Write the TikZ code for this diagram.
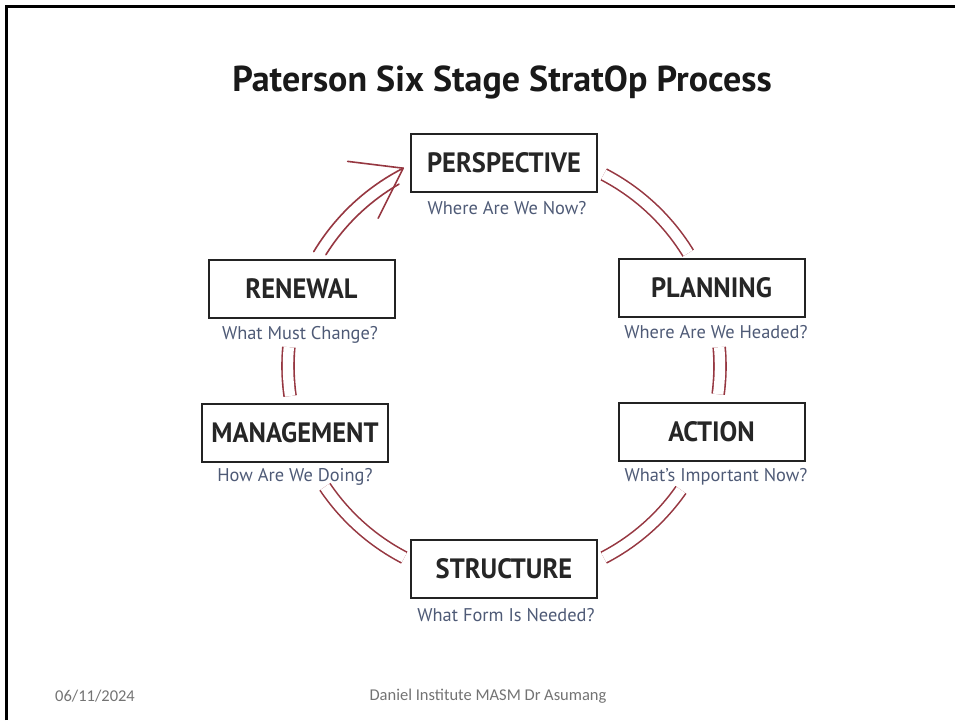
\documentclass[tikz,border=0pt]{standalone}
\usepackage{fontspec}
\setmainfont{PT Sans}
\newfontfamily\footfont{Carlito}
\newfontfamily\stagefont[FakeStretch=0.945]{PT Sans}
\usetikzlibrary{calc}
\definecolor{linkred}{RGB}{150,55,65}
\definecolor{capblue}{RGB}{78,90,118}
\definecolor{footgray}{RGB}{115,115,115}
\definecolor{boxline}{RGB}{35,35,35}
\begin{document}
\begin{tikzpicture}[x=1pt,y=-1pt,
  stage/.style={draw=boxline, line width=2pt, fill=white, minimum width=186pt, minimum height=58pt, inner sep=0pt,
    font=\stagefont\fontsize{28}{28}\selectfont\bfseries, text=black!85},
  question/.style={text=capblue, font=\fontsize{18.4}{18.4}\selectfont, inner sep=0pt},
  link/.style={draw=linkred, line width=1.6pt, double=white, double distance=10.4pt},
  linkline/.style={draw=linkred, line width=1.6pt, line cap=round},
  foot/.style={text=footgray, font=\footfont\fontsize{16.5}{16.5}\selectfont, inner sep=0pt}
]
\useasboundingbox (0,0) rectangle (955,720);
\draw[line width=3pt] (6.5,720) -- (6.5,6.5) -- (955,6.5);

\node[font=\fontsize{36}{36}\selectfont\bfseries, text=black!90, inner sep=0pt] (title) at (502,82) {Paterson Six Stage StratOp Process};

\coordinate (c) at (504,366);

% connectors (drawn first, boxes on top)
\draw[link] ($(c)+(-62.5:216)$) arc[start angle=-62.5, end angle=-31.5, radius=216];
\draw[link] ($(c)+(-5:216)$) arc[start angle=-5, end angle=7.5, radius=216];
\draw[link] ($(c)+(35:216)$) arc[start angle=35, end angle=62.5, radius=216];
\draw[link] ($(c)+(117.5:216)$) arc[start angle=117.5, end angle=146, radius=216];
\draw[link] ($(c)+(172:216)$) arc[start angle=172, end angle=185, radius=216];
% arrow into PERSPECTIVE
\draw[linkline] ($(c)+(211:222)$) arc[start angle=211, end angle=243, radius=222] coordinate (tip);
\draw[linkline] ($(c)+(212:210)$) arc[start angle=212, end angle=240, radius=210];
\draw[linkline] (tip) -- ($(tip)+(187:56)$);
\draw[linkline] (tip) -- ($(tip)+(116.6:56)$);

\node[stage] (persp) at (504,163) {PERSPECTIVE};
\node[stage] (plan) at (711.5,288) {PLANNING};
\node[stage] (act) at (711.5,431.5) {ACTION};
\node[stage] (struct) at (504,569) {STRUCTURE};
\node[stage] (mgmt) at (295,432.5) {MANAGEMENT};
\node[stage] (renew) at (301.5,288.5) {RENEWAL};

\node[question] (perspq) at (507,208) {Where Are We Now?};
\node[question] (planq) at (716,332) {Where Are We Headed?};
\node[question] (actq) at (716,477) {What’s Important Now?};
\node[question] (structq) at (506,615) {What Form Is Needed?};
\node[question] (mgmtq) at (295,477) {How Are We Doing?};
\node[question] (renewq) at (300,335) {What Must Change?};

\node[foot, anchor=west] (date) at (55,696) {06/11/2024};
\node[foot] (inst) at (488,696) {Daniel Institute MASM Dr Asumang};
\end{tikzpicture}
\end{document}
